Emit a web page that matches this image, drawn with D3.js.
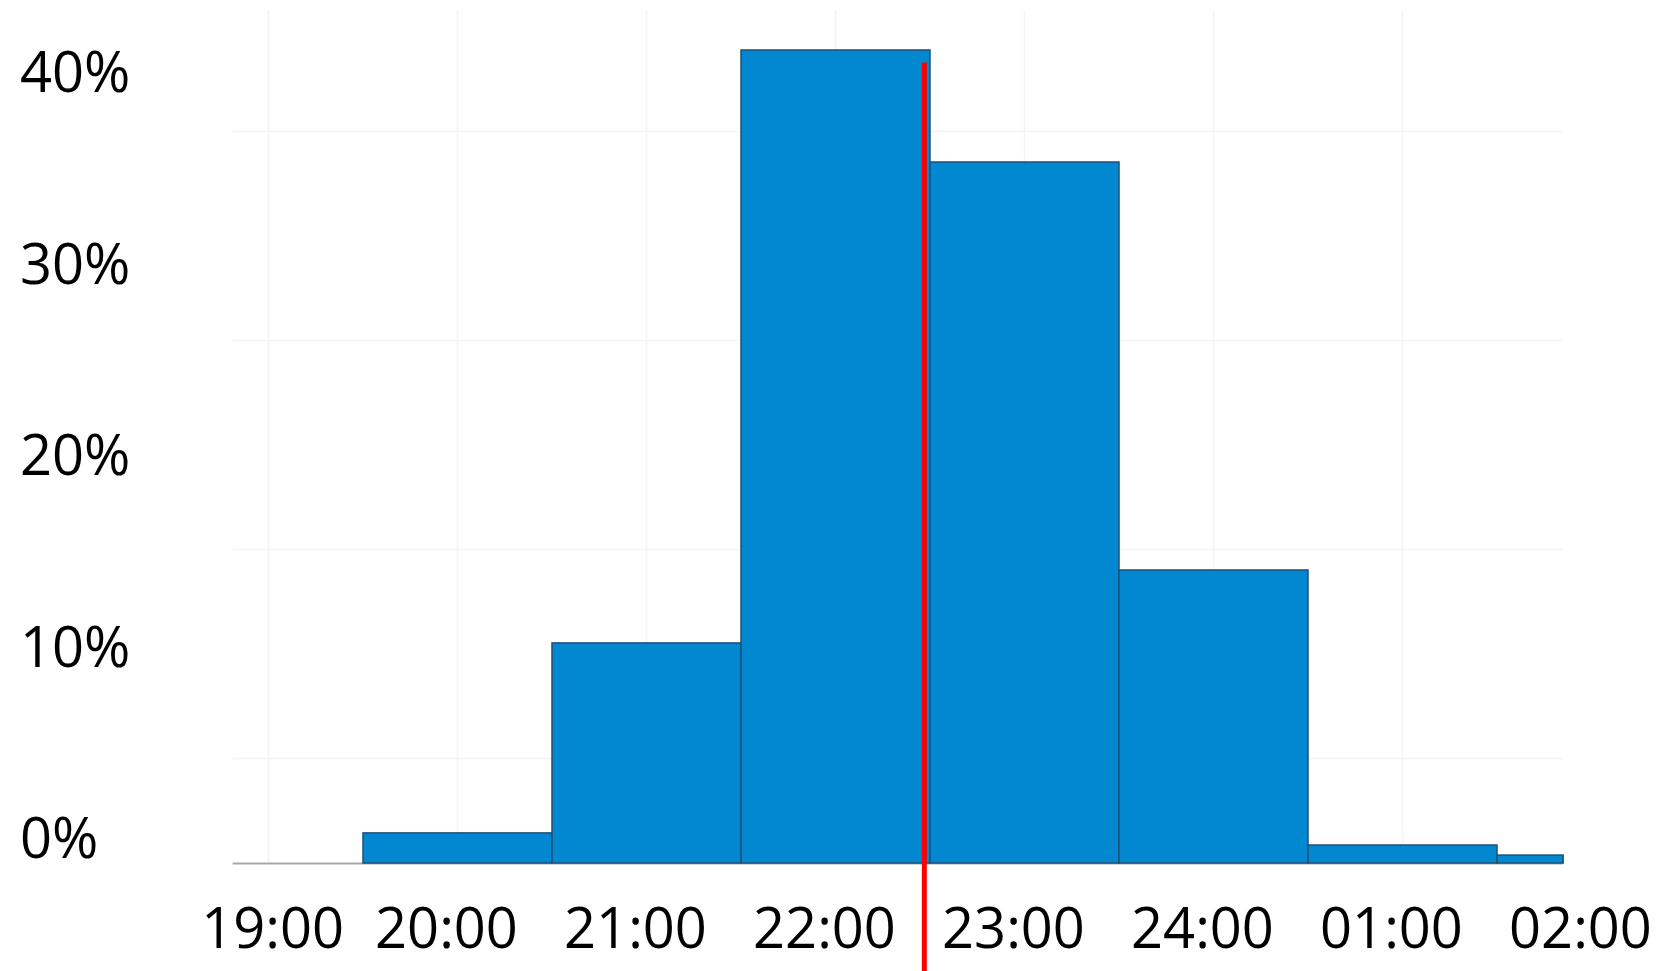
<!DOCTYPE html>
<meta charset="utf-8">
<head>
    <style>
        body {margin: 0; background: #fff;}
        text {fill: #000; font-family: "Open Sans", "Noto Sans", sans-serif; font-size: 56px;}
        .bar {fill: #0288d1; stroke: #1f4f78; stroke-width: 1.5;}
        .grid line {stroke: #f4f4f4; stroke-width: 1.5;}
    </style>
    <script src="https://d3js.org/d3.v7.min.js"></script>
</head>
<body>
<script>

    // bins: hour at the centre of each bin (24 = midnight, 25 = 01:00 ...)
    var binHours = [20, 21, 22, 23, 24, 25, 26],
        binShare = [1.44, 10.53, 38.9, 33.54, 14.02, 0.86, 0.38],   // % of people
        tickHours = [19, 20, 21, 22, 23, 24, 25, 26],
        tickLabels = ["19:00", "20:00", "21:00", "22:00", "23:00", "24:00", "01:00", "02:00"],
        yTicks = [0, 10, 20, 30, 40],
        gridValues = [5, 15, 25, 35],
        meanHour = 22.47,
        meanTop = 38.3;

    var width = 1663, height = 971;

    var xMin = 18.81, xMax = 25.85;   // the chart cuts the last bin short

    var x = d3.scaleLinear()
        .domain([19.5, 20.5])
        .range([363, 552]);

    var y = d3.scaleLinear()
        .domain([0, 40])
        .range([863, 27]);

    // the % labels sit on their own spacing in the picture
    var yLabel = d3.scaleLinear()
        .domain([0, 40])
        .range([858, 92]);

    var svg = d3.select("body").append("svg")
        .attr("width", width)
        .attr("height", height);

    var grid = svg.append("g").attr("class", "grid");

    grid.selectAll(".h")
        .data(gridValues)
      .enter().append("line")
        .attr("x1", x(xMin))
        .attr("x2", x(xMax))
        .attr("y1", function(d) {return y(d)})
        .attr("y2", function(d) {return y(d)})

    grid.selectAll(".v")
        .data(tickHours.filter(function(h) {return h < xMax}))
      .enter().append("line")
        .attr("x1", function(d) {return x(d)})
        .attr("x2", function(d) {return x(d)})
        .attr("y1", y(40.8))
        .attr("y2", y(0))

    // axis base line
    svg.append("line")
        .attr("x1", x(xMin))
        .attr("x2", x(xMax))
        .attr("y1", y(0) + 0.5)
        .attr("y2", y(0) + 0.5)
        .attr("stroke", "#a8a8a8")
        .attr("stroke-width", 2)

    svg.selectAll(".bar")
        .data(binHours)
      .enter().append("rect")
        .attr("class", "bar")
        .attr("x", function(d) {return x(d - 0.5)})
        .attr("width", function(d) {return x(Math.min(d + 0.5, xMax)) - x(d - 0.5)})
        .attr("y", function(d, i) {return y(binShare[i])})
        .attr("height", function(d, i) {return y(0) - y(binShare[i])})

    // mean bedtime
    svg.append("line")
        .attr("x1", x(meanHour))
        .attr("x2", x(meanHour))
        .attr("y1", y(meanTop))
        .attr("y2", height)
        .attr("stroke", "#ff0000")
        .attr("stroke-width", 5)

    // labels sit a little left of their hour, but never past the start of the axis
    svg.selectAll(".xlabel")
        .data(tickHours)
      .enter().append("text")
        .attr("x", function(d) {return Math.max(x(d) - 11, x(xMin) + 40)})
        .attr("y", 948)
        .attr("text-anchor", "middle")
        .text(function(d, i) {return tickLabels[i]})

    svg.selectAll(".ylabel")
        .data(yTicks)
      .enter().append("text")
        .attr("x", 20)
        .attr("y", function(d) {return yLabel(d)})
        .text(function(d) {return d + "%"})

</script>
</body>
